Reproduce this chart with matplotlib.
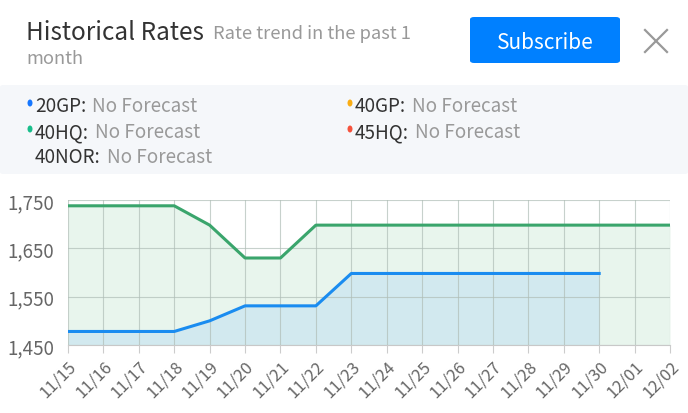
import matplotlib.pyplot as plt
from matplotlib.patches import FancyBboxPatch, Ellipse
from matplotlib.lines import Line2D

plt.rcParams['font.family'] = ['Noto Sans CJK SC', 'DejaVu Sans']

# data
dates = ['11/15', '11/16', '11/17', '11/18', '11/19', '11/20', '11/21', '11/22', '11/23',
         '11/24', '11/25', '11/26', '11/27', '11/28', '11/29', '11/30', '12/01', '12/02']
rate_40hq = [1738, 1738, 1738, 1738, 1698, 1630, 1630, 1698, 1698,
             1698, 1698, 1698, 1698, 1698, 1698, 1698, 1698, 1698]
rate_20gp = [1478, 1478, 1478, 1478, 1500, 1531, 1531, 1531, 1598,
             1598, 1598, 1598, 1598, 1598, 1598, 1598]
y_ticks = [1450, 1550, 1650, 1750]

legend_items = [('20GP:', '#1677ff'), ('40GP:', '#faad14'),
                ('40HQ:', '#19be8b'), ('45HQ:', '#f5533d'),
                ('40NOR:', None)]

W, H = 688, 414
fig = plt.figure(figsize=(W / 100, H / 100), dpi=100)
renderer = fig.canvas.get_renderer()


def fx(px):
    return px / W


def fy(py):
    return 1 - py / H


# header
t = fig.text(fx(26), fy(33), 'Historical Rates', fontsize=17.5, color='#333333', va='center')
bb = t.get_window_extent(renderer)
fig.text(fx(bb.x1 + 9), fy(34), 'Rate trend in the past 1', fontsize=13.2, color='#999999', va='center')
fig.text(fx(26), fy(59), 'month', fontsize=13.2, color='#999999', va='center')

btn = FancyBboxPatch((fx(470), fy(64)), fx(150), 46 / H, transform=fig.transFigure,
                     boxstyle='round,pad=0,rounding_size=0.006', fc='#0080ff', ec='none')
fig.patches.append(btn)
fig.text(fx(545), fy(43), 'Subscribe', fontsize=15, color='white', ha='center', va='center')
for xs, ys in [((645, 667), (31, 53)), ((645, 667), (53, 31))]:
    fig.lines.append(Line2D([fx(xs[0]), fx(xs[1])], [fy(ys[0]), fy(ys[1])],
                            transform=fig.transFigure, color='#999999', lw=1.6))

# legend box
box = FancyBboxPatch((fx(0), fy(175)), fx(688), 89 / H, transform=fig.transFigure,
                     boxstyle='round,pad=0,rounding_size=0.005', fc='#f5f7fa', ec='none')
fig.patches.append(box)

rows = [107, 107, 133, 133, 158]
cols = [35, 355, 35, 355, 35]
for (name, col), row, x0 in zip(legend_items, rows, cols):
    if col is not None:
        fig.patches.append(Ellipse((fx(x0 - 5), fy(row - 3)), 5 / W, 7 / H,
                                   transform=fig.transFigure, fc=col, ec='none'))
    t = fig.text(fx(x0), fy(row), name, fontsize=13.6, color='#333333', va='center')
    bb = t.get_window_extent(renderer)
    fig.text(fx(bb.x1 + 6), fy(row), 'No Forecast', fontsize=13.6, color='#999999', va='center')

# chart
ax = fig.add_axes([fx(68), fy(346), fx(670) - fx(68), (346 - 201) / H])
x_all = range(len(dates))
x_blue = range(len(rate_20gp))
ax.fill_between(x_all, rate_40hq, 1450, color='#e8f5ed', lw=0, zorder=1)
ax.fill_between(x_blue, rate_20gp, 1450, color='#d2e9ef', lw=0, zorder=2)
ax.plot(x_all, rate_40hq, color='#3aa56c', lw=2.2, zorder=4)
ax.plot(x_blue, rate_20gp, color='#1a8cf0', lw=2.2, zorder=4)

ax.set_xlim(0, len(dates) - 1)
ax.set_ylim(1450, 1750)
ax.set_xticks(list(x_all))
ax.set_xticklabels(dates, rotation=45, ha='right', rotation_mode='anchor')
ax.set_yticks(y_ticks)
ax.set_yticklabels([f'{v:,}' for v in y_ticks])
ax.grid(True, color='#b0beb7', lw=0.8, alpha=0.7, zorder=3)
ax.set_axisbelow(False)
for s in ['top', 'right', 'left']:
    ax.spines[s].set_visible(False)
ax.spines['bottom'].set_color('#c8c8c8')
ax.tick_params(axis='x', colors='#cccccc', length=6, labelcolor='#666666', labelsize=12, pad=3)
ax.tick_params(axis='y', length=0, labelcolor='#666666', labelsize=13.5, pad=10)
ax.set_facecolor('none')

fig.savefig('out.png', dpi=100)
